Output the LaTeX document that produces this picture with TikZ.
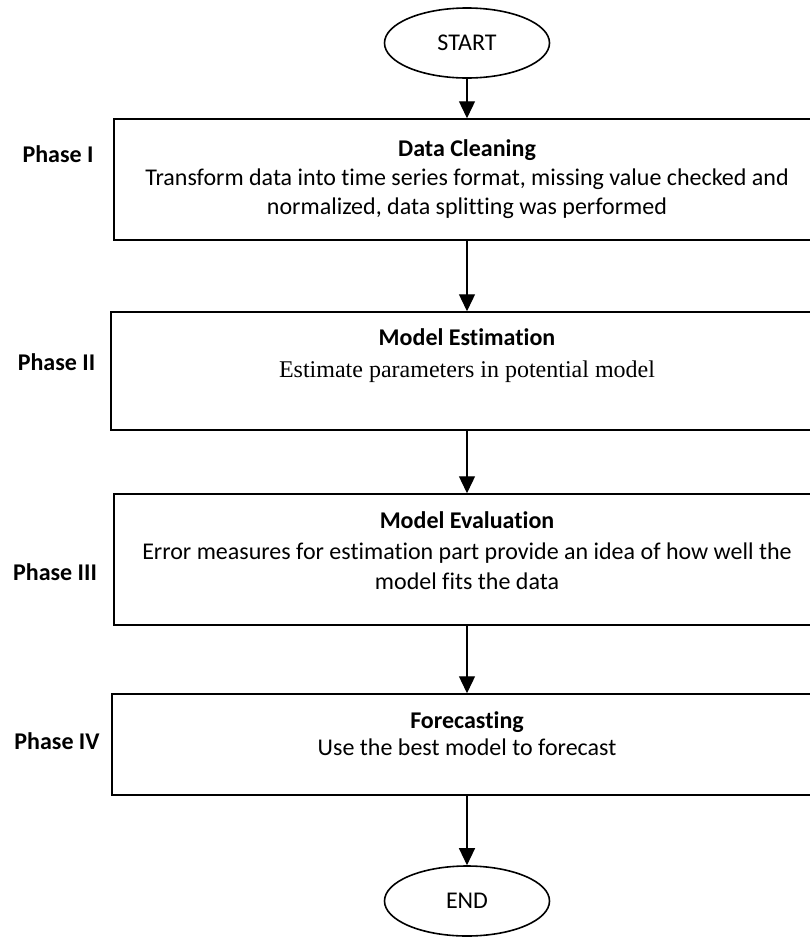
\documentclass[tikz,border=0pt]{standalone}
\usepackage{fontspec}
\setmainfont[Ligatures=NoCommon]{Carlito}
\newfontfamily\tnr[Ligatures=NoCommon]{Liberation Serif}
\usetikzlibrary{arrows.meta,shapes.geometric}
\begin{document}
\begin{tikzpicture}[x=1pt,y=-1pt,
  box/.style={draw, line width=1.5pt, rectangle, inner sep=0pt},
  term/.style={draw, ellipse, line width=1.6pt, minimum width=165pt, minimum height=70pt, inner sep=0pt, font=\fontsize{24}{28}\selectfont},
  ttl/.style={anchor=base, inner sep=0pt, font=\fontsize{24}{28}\selectfont\bfseries},
  txt/.style={anchor=base, inner sep=0pt, font=\fontsize{24}{28}\selectfont},
  sertxt/.style={anchor=base, inner sep=0pt, font=\tnr\fontsize{24}{28}\selectfont},
  phase/.style={anchor=base, inner sep=0pt, font=\fontsize{24}{28}\selectfont\bfseries},
  arr/.style={line width=1.3pt, -{Triangle[length=17pt,width=16pt]}}]
\useasboundingbox (0,0) rectangle (810,938);
\clip (0,0) rectangle (810,938);

% terminals
\node[term] (start) at (467,43) {START};
\node[term] (end) at (467,901) {END};

% boxes
\node[box, minimum width=706pt, minimum height=121pt] (b1) at (467,179.5) {};
\node[box, minimum width=712pt, minimum height=118pt] (b2) at (467,371) {};
\node[box, minimum width=706pt, minimum height=131pt] (b3) at (467,559.5) {};
\node[box, minimum width=710pt, minimum height=101pt] (b4) at (467,744.5) {};

% box texts
\node[ttl] (t1) at (467,156) {Data Cleaning};
\node[txt] (t1a) at (467,185) {Transform data into time series format, missing value checked and};
\node[txt] (t1b) at (467,214) {normalized, data splitting was performed};

\node[ttl] (t2) at (467,345) {Model Estimation};
\node[sertxt] (t2a) at (467,377) {Estimate parameters in potential model};

\node[ttl] (t3) at (467,528) {Model Evaluation};
\node[txt] (t3a) at (467,559) {Error measures for estimation part provide an idea of how well the};
\node[txt] (t3b) at (467,589) {model fits the data};

\node[ttl] (t4) at (467,728) {Forecasting};
\node[txt] (t4a) at (467,755) {Use the best model to forecast};

% phase labels
\node[phase] (p1) at (58,162) {Phase I};
\node[phase] (p2) at (56.5,370.5) {Phase II};
\node[phase] (p3) at (55,580) {Phase III};
\node[phase] (p4) at (57,749.5) {Phase IV};

% arrows
\draw[arr] (start) -- (b1);
\draw[arr] (b1) -- (b2);
\draw[arr] (b2) -- (b3);
\draw[arr] (b3) -- (b4);
\draw[arr] (b4) -- (end);
\end{tikzpicture}
\end{document}
